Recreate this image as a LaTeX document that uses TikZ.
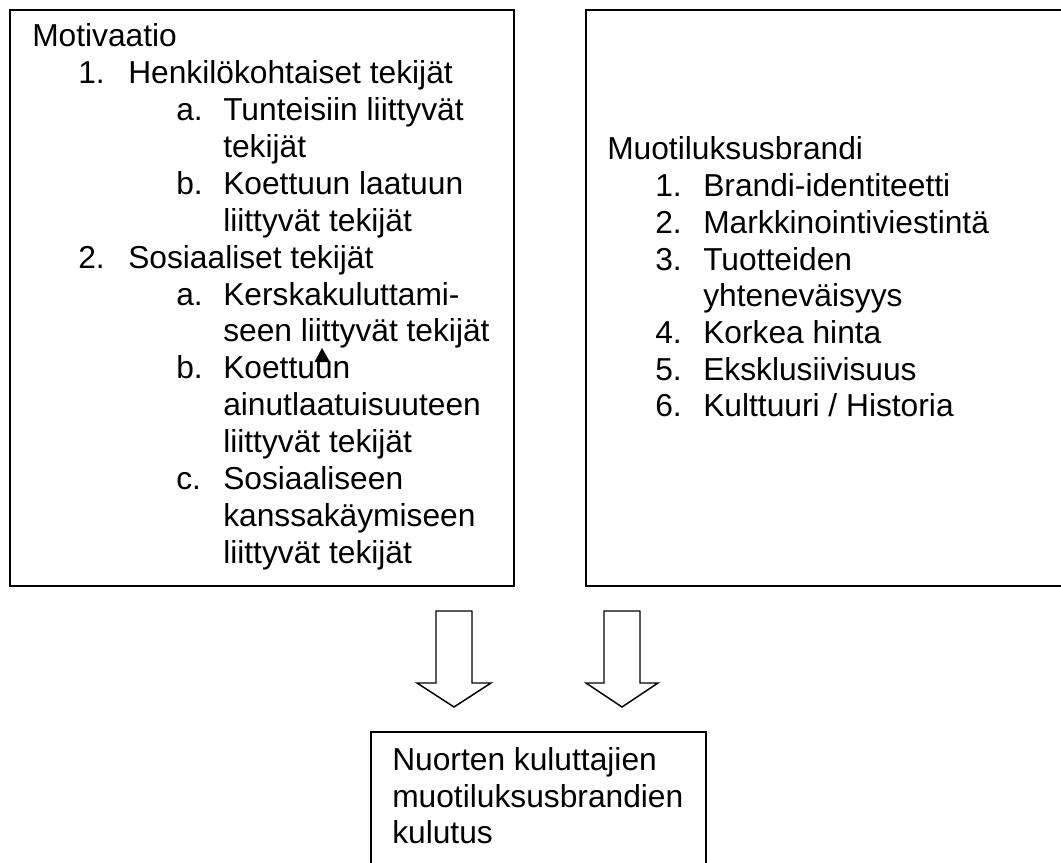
\documentclass[tikz,border=0pt]{standalone}
\usepackage{fontspec}
\setmainfont{Liberation Sans}
\tikzset{
  txt/.style={anchor=base west, inner sep=0pt, font=\fontsize{23.8pt}{27.5pt}\selectfont},
  boxline/.style={line width=1.5pt, line join=miter},
  blockarrow/.style={line width=1.1pt, line join=miter, fill=white},
}
\begin{document}
\begin{tikzpicture}[x=0.75pt,y=-0.75pt]
\useasboundingbox (0,0) rectangle (1061,863);
\clip (0,0) rectangle (1061,863);
% boxes
\draw[boxline] (10,10) rectangle (514,586);
\draw[boxline] (586,10) rectangle (1070,586);
\draw[boxline] (371,732) rectangle (706,875);
% left box text
\def\ly#1{47+36.86*#1}
\node[txt] (m0) at (32,{\ly{0}}) {Motivaatio};
\node[txt] (m1n) at (78,{\ly{1}}) {1.};
\node[txt] (m1t) at (128,{\ly{1}}) {Henkilökohtaiset tekijät};
\node[txt] (m1an) at (176,{\ly{2}}) {a.};
\node[txt] (m1at) at (223,{\ly{2}}) {Tunteisiin liittyvät};
\node[txt] (m1at2) at (223,{\ly{3}}) {tekijät};
\node[txt] (m1bn) at (176,{\ly{4}}) {b.};
\node[txt] (m1bt) at (223,{\ly{4}}) {Koettuun laatuun};
\node[txt] (m1bt2) at (223,{\ly{5}}) {liittyvät tekijät};
\node[txt] (m2n) at (78,{\ly{6}}) {2.};
\node[txt] (m2t) at (128,{\ly{6}}) {Sosiaaliset tekijät};
\node[txt] (m2an) at (176,{\ly{7}}) {a.};
\node[txt] (m2at) at (223,{\ly{7}}) {Kerskakuluttami-};
\node[txt] (m2at2) at (223,{\ly{8}}) {seen liittyvät tekijät};
\node[txt] (m2bn) at (176,{\ly{9}}) {b.};
\node[txt] (m2bt) at (223,{\ly{9}}) {Koettuun};
\node[txt] (m2bt2) at (223,{\ly{10}}) {ainutlaatuisuuteen};
\node[txt] (m2bt3) at (223,{\ly{11}}) {liittyvät tekijät};
\node[txt] (m2cn) at (176,{\ly{12}}) {c.};
\node[txt] (m2ct) at (223,{\ly{12}}) {Sosiaaliseen};
\node[txt] (m2ct2) at (223,{\ly{13}}) {kanssakäymiseen};
\node[txt] (m2ct3) at (223,{\ly{14}}) {liittyvät tekijät};
% small triangle
\fill (322,348) -- (330,362) -- (314.5,362) -- cycle;
% right box text
\def\ry#1{160+36.7*#1}
\node[txt] (b0) at (607,{\ry{0}}) {Muotiluksusbrandi};
\node[txt] (b1n) at (655,{\ry{1}}) {1.};
\node[txt] (b1t) at (703,{\ry{1}}) {Brandi-identiteetti};
\node[txt] (b2n) at (655,{\ry{2}}) {2.};
\node[txt] (b2t) at (703,{\ry{2}}) {Markkinointiviestintä};
\node[txt] (b3n) at (655,{\ry{3}}) {3.};
\node[txt] (b3t) at (703,{\ry{3}}) {Tuotteiden};
\node[txt] (b3t2) at (703,{\ry{4}}) {yhteneväisyys};
\node[txt] (b4n) at (655,{\ry{5}}) {4.};
\node[txt] (b4t) at (703,{\ry{5}}) {Korkea hinta};
\node[txt] (b5n) at (655,{\ry{6}}) {5.};
\node[txt] (b5t) at (703,{\ry{6}}) {Eksklusiivisuus};
\node[txt] (b6n) at (655,{\ry{7}}) {6.};
\node[txt] (b6t) at (703,{\ry{7}}) {Kulttuuri / Historia};
% block arrows
\draw[blockarrow] (436,611) -- (472,611) -- (472,683) -- (491,683) -- (454,707) -- (417,683) -- (436,683) -- cycle;
\draw[blockarrow] (604,611) -- (640,611) -- (640,683) -- (658,683) -- (622,707) -- (586,683) -- (604,683) -- cycle;
% bottom box text
\node[txt] (c1) at (392,770) {Nuorten kuluttajien};
\node[txt] (c2) at (392,807) {muotiluksusbrandien};
\node[txt] (c3) at (392,843) {kulutus};
\end{tikzpicture}
\end{document}
